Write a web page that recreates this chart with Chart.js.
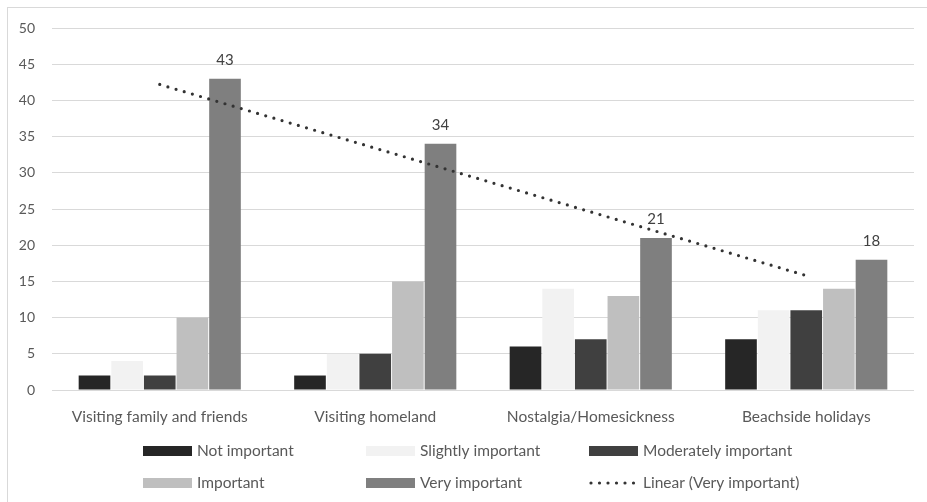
<!DOCTYPE html>
<html>
<head>
<meta charset="utf-8">
<script src="https://cdn.jsdelivr.net/npm/chart.js@4.4.1/dist/chart.umd.min.js"></script>
<style>
  html, body { margin: 0; padding: 0; background: #ffffff; overflow: hidden; }
  #frame { position: absolute; left: 7px; top: 7px; width: 940px; height: 520px;
           border-left: 1px solid #d9d9d9; border-top: 1px solid #d9d9d9; }
  #c { position: absolute; left: 0; top: 0; }
</style>
</head>
<body>
<div id="frame"></div>
<canvas id="c" width="927" height="502"></canvas>
<script>
// Reasons for travelling, by level of importance
const categories = ['Visiting family and friends', 'Visiting homeland', 'Nostalgia/Homesickness', 'Beachside holidays'];
const notImportant        = [2, 2, 6, 7];
const slightlyImportant   = [4, 5, 14, 11];
const moderatelyImportant = [2, 5, 7, 11];
const important           = [10, 15, 13, 14];
const veryImportant       = [43, 34, 21, 18];
const yTicks = [0, 5, 10, 15, 20, 25, 30, 35, 40, 45, 50];

// Least-squares linear trend of the "Very important" series
function linearTrend(values) {
  const n = values.length;
  const xs = values.map((_, i) => i + 1);
  const mx = xs.reduce((a, b) => a + b, 0) / n;
  const my = values.reduce((a, b) => a + b, 0) / n;
  let num = 0, den = 0;
  for (let i = 0; i < n; i++) { num += (xs[i] - mx) * (values[i] - my); den += (xs[i] - mx) ** 2; }
  const slope = num / den, icpt = my - slope * mx;
  return xs.map(x => icpt + slope * x);
}
const trendVeryImportant = linearTrend(veryImportant);

const FONT = 'Lato, "Open Sans", sans-serif';
const TEXT = '#595959';

// Value labels above the "Very important" bars
const valueLabels = {
  id: 'valueLabels',
  afterDatasetsDraw(chart) {
    const ctx = chart.ctx;
    const idx = chart.data.datasets.findIndex(d => d.label === 'Very important');
    const meta = chart.getDatasetMeta(idx);
    ctx.save();
    ctx.font = '15px ' + FONT;
    ctx.fillStyle = '#404040';
    ctx.textAlign = 'center';
    ctx.textBaseline = 'bottom';
    meta.data.forEach((bar, i) => {
      ctx.fillText(String(chart.data.datasets[idx].data[i]), bar.x, bar.y - 11);
    });
    ctx.restore();
  }
};

// Legend in a three-column grid under the axis
const gridLegend = {
  id: 'gridLegend',
  afterDraw(chart, args, opts) {
    const ctx = chart.ctx;
    ctx.save();
    ctx.font = '15.5px ' + FONT;
    ctx.textBaseline = 'middle';
    ctx.textAlign = 'left';
    chart.data.datasets.forEach((ds, i) => {
      const col = i % opts.columns, row = Math.floor(i / opts.columns);
      const x = opts.left + col * opts.colWidth;
      const y = opts.top + row * opts.rowHeight;
      if (ds.type === 'line') {
        ctx.strokeStyle = ds.borderColor;
        ctx.lineWidth = ds.borderWidth;
        ctx.lineCap = 'round';
        ctx.setLineDash(ds.borderDash);
        ctx.beginPath();
        ctx.moveTo(x + 2, y);
        ctx.lineTo(x + opts.boxWidth, y);
        ctx.stroke();
        ctx.setLineDash([]);
      } else {
        ctx.fillStyle = ds.backgroundColor;
        ctx.fillRect(x, y - opts.boxHeight / 2, opts.boxWidth, opts.boxHeight);
      }
      ctx.fillStyle = TEXT;
      ctx.fillText(ds.label, x + opts.boxWidth + 5, y);
    });
    ctx.restore();
  }
};

const barStyle = { borderWidth: 0, barPercentage: 0.97, categoryPercentage: 0.757 };

new Chart(document.getElementById('c'), {
  type: 'bar',
  data: {
    labels: categories,
    datasets: [
      { label: 'Not important', data: notImportant, backgroundColor: '#262626', ...barStyle },
      { label: 'Slightly important', data: slightlyImportant, backgroundColor: '#f2f2f2', ...barStyle },
      { label: 'Moderately important', data: moderatelyImportant, backgroundColor: '#404040', ...barStyle },
      { label: 'Important', data: important, backgroundColor: '#bfbfbf', ...barStyle },
      { label: 'Very important', data: veryImportant, backgroundColor: '#7f7f7f', ...barStyle },
      { label: 'Linear (Very important)', type: 'line', data: trendVeryImportant,
        borderColor: '#333333', borderWidth: 3.2, borderDash: [0, 8.5], borderCapStyle: 'round',
        pointRadius: 0, fill: false, tension: 0, order: -1 }
    ]
  },
  options: {
    responsive: false,
    animation: false,
    layout: { padding: { top: 28, right: 13, bottom: 0, left: 0 } },
    plugins: {
      legend: { display: false },
      tooltip: { enabled: false },
      gridLegend: { columns: 3, left: 143, colWidth: 223, top: 451, rowHeight: 32, boxWidth: 49, boxHeight: 10 }
    },
    scales: {
      x: {
        grid: { display: false },
        border: { display: false },
        ticks: { color: TEXT, font: { family: FONT, size: 15.5 }, padding: 10, maxRotation: 0 },
        afterFit(scale) { scale.height = 112; }
      },
      y: {
        min: 0, max: 50,
        afterBuildTicks(scale) { scale.ticks = yTicks.map(v => ({ value: v })); },
        grid: { color: '#d9d9d9', lineWidth: 1, drawTicks: false },
        border: { display: false },
        ticks: { color: TEXT, font: { family: FONT, size: 14 }, padding: 17 },
        afterFit(scale) { scale.width = 52; }
      }
    }
  },
  plugins: [valueLabels, gridLegend]
});
</script>
</body>
</html>
